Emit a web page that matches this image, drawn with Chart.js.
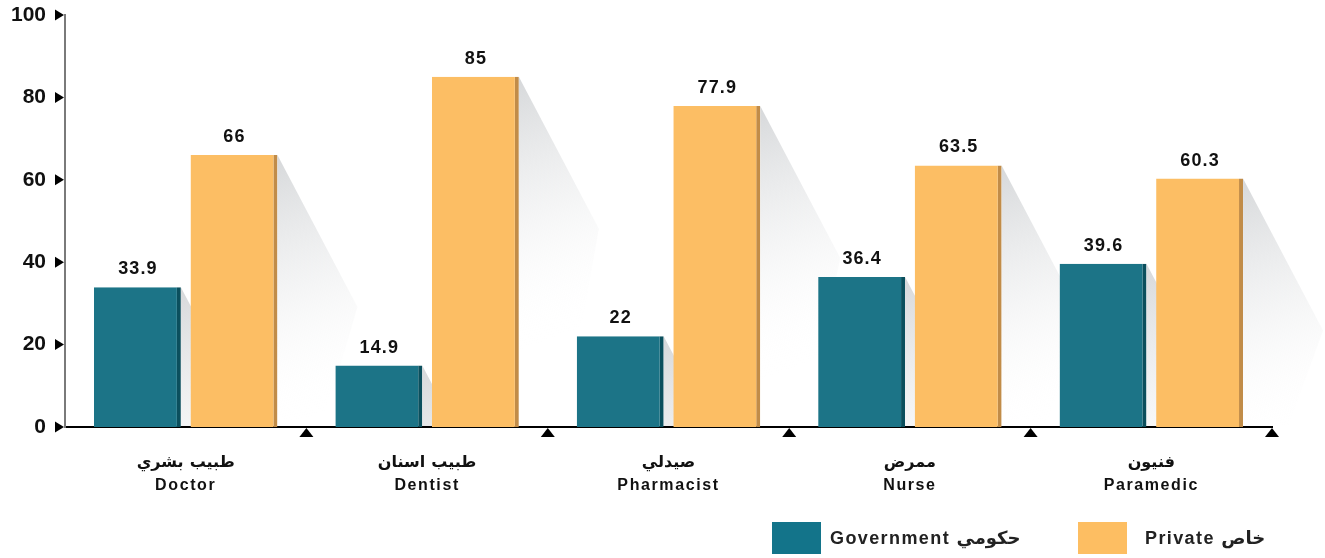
<!DOCTYPE html>
<html><head><meta charset="utf-8">
<script src="https://cdn.jsdelivr.net/npm/chart.js@4.4.1/dist/chart.umd.min.js"></script>
<style>html,body{margin:0;padding:0;background:#fff;} #wrap{width:1325px;height:558px;position:relative;}</style>
</head><body><div id="wrap"><canvas id="c"></canvas></div>
<script>
const categoriesAr = ['طبيب بشري', 'طبيب اسنان', 'صيدلي', 'ممرض', 'فنيون'];
const categoriesEn = ['Doctor', 'Dentist', 'Pharmacist', 'Nurse', 'Paramedic'];
const governmentValues = [33.9, 14.9, 22, 36.4, 39.6];
const privateValues = [66, 85, 77.9, 63.5, 60.3];
const seriesNames = ['Government حكومي', 'Private خاص'];
const yTickValues = [0, 20, 40, 60, 80, 100];

const FONT = '"Liberation Sans", Arial, "DejaVu Sans", sans-serif';
const legendColors = ['#13748a', '#fdbe62'];

const deco = {
  id: 'deco',
  beforeUpdate(chart) { chart.ctx.letterSpacing = '0px'; },
  beforeDraw(chart) { chart.ctx.letterSpacing = '1.6px'; },
  beforeDatasetsDraw(chart) {
    const ctx = chart.ctx;
    const area = chart.chartArea;
    ctx.save();
    ctx.letterSpacing = '0px';
    ctx.beginPath();
    ctx.rect(area.left, area.top - 40, area.right - area.left + 80, area.bottom - area.top + 39);
    ctx.clip();
    chart.data.datasets.forEach((ds, di) => {
      const meta = chart.getDatasetMeta(di);
      meta.data.forEach(bar => {
        const p = bar.getProps(['x', 'y', 'base', 'width'], true);
        const r = p.x + p.width / 2;
        const top = p.y, base = p.base;
        const g = ctx.createLinearGradient(r, top, r + 90, top + 240);
        g.addColorStop(0, 'rgba(212,214,216,0.95)');
        g.addColorStop(0.5, 'rgba(236,237,238,0.6)');
        g.addColorStop(1, 'rgba(255,255,255,0)');
        ctx.fillStyle = g;
        ctx.beginPath();
        ctx.moveTo(r, top);
        ctx.lineTo(r + 80, top + 152);
        ctx.lineTo(r + 45, base);
        ctx.lineTo(r, base);
        ctx.closePath();
        ctx.fill();
      });
    });
    ctx.restore();
  },
  afterDatasetsDraw(chart) {
    const ctx = chart.ctx;
    ctx.save();
    ctx.letterSpacing = '1.1px';
    ctx.font = `bold 18px ${FONT}`;
    ctx.fillStyle = '#111';
    ctx.textAlign = 'center';
    ctx.textBaseline = 'alphabetic';
    chart.data.datasets.forEach((ds, di) => {
      const meta = chart.getDatasetMeta(di);
      meta.data.forEach((bar, i) => {
        const p = bar.getProps(['x', 'y'], true);
        ctx.fillText(String(ds.data[i]), p.x + 0.5, p.y - 13);
      });
    });
    ctx.restore();
    ctx.letterSpacing = '0px';
  },
  afterDraw(chart) {
    const ctx = chart.ctx;
    const area = chart.chartArea;
    const xs = chart.scales.x, ys = chart.scales.y;
    ctx.save();
    ctx.letterSpacing = '0px';
    ctx.fillStyle = '#000';
    ys.ticks.forEach(t => {
      const y = ys.getPixelForValue(t.value);
      ctx.beginPath();
      ctx.moveTo(area.left - 10, y - 5.5);
      ctx.lineTo(area.left - 1, y);
      ctx.lineTo(area.left - 10, y + 5.5);
      ctx.closePath();
      ctx.fill();
    });
    const n = chart.data.labels.length;
    for (let i = 0; i < n; i++) {
      const bx = i < n - 1 ? (xs.getPixelForValue(i) + xs.getPixelForValue(i + 1)) / 2 : area.right;
      const y0 = area.bottom + 1;
      ctx.beginPath();
      ctx.moveTo(bx - 7, y0 + 9);
      ctx.lineTo(bx, y0);
      ctx.lineTo(bx + 7, y0 + 9);
      ctx.closePath();
      ctx.fill();
    }
    // legend
    ctx.font = `bold 18px ${FONT}`;
    ctx.letterSpacing = '1.4px';
    ctx.textBaseline = 'middle';
    ctx.textAlign = 'left';
    const boxW = 49, boxH = 32, boxTop = 522;
    const itemX = [772, 1078];
    const textGaps = [9, 18];
    chart.data.datasets.forEach((ds, i) => {
      const x = itemX[i];
      ctx.fillStyle = legendColors[i];
      ctx.fillRect(x, boxTop, boxW, boxH);
      ctx.fillStyle = '#222';
      ctx.fillText(ds.label, x + boxW + textGaps[i], boxTop + boxH / 2 + 1);
    });
    ctx.restore();
  }
};

new Chart(document.getElementById('c'), {
  type: 'bar',
  data: {
    labels: categoriesAr.map((a, i) => [a, categoriesEn[i]]),
    datasets: [
      {
        label: seriesNames[0],
        data: governmentValues,
        backgroundColor: '#1c7487',
        borderColor: '#0b4f5d',
        borderWidth: { top: 0, left: 0, bottom: 0, right: 4 },
        borderSkipped: false,
        categoryPercentage: 0.8,
        barPercentage: 0.9
      },
      {
        label: seriesNames[1],
        data: privateValues,
        backgroundColor: '#fcbe64',
        borderColor: '#c18c48',
        borderWidth: { top: 0, left: 0, bottom: 0, right: 4 },
        borderSkipped: false,
        categoryPercentage: 0.8,
        barPercentage: 0.9
      }
    ]
  },
  options: {
    responsive: true,
    maintainAspectRatio: false,
    animation: false,
    events: [],
    layout: { padding: { left: 11, right: 53, top: 15, bottom: 61 } },
    plugins: {
      legend: { display: false },
      tooltip: { enabled: false }
    },
    scales: {
      x: {
        grid: { display: false, drawTicks: false },
        border: { display: true, color: '#000', width: 2 },
        ticks: {
          color: '#111',
          font: { family: FONT, size: 16, weight: 'bold', lineHeight: 1.45 },
          padding: 24,
          maxRotation: 0,
          autoSkip: false
        },
        afterFit(scale) { scale.height = 70; }
      },
      y: {
        min: 0,
        max: 100,
        afterBuildTicks(scale) { scale.ticks = yTickValues.map(v => ({ value: v })); },
        grid: { display: false, drawTicks: false },
        border: { display: true, color: '#7a7a7a', width: 2 },
        ticks: {
          z: 1,
          color: '#111',
          font: { family: FONT, size: 21, weight: 'bold' },
          padding: 19
        },
        afterFit(scale) { scale.width = 54; scale.paddingTop = 0; scale.paddingBottom = 0; }
      }
    }
  },
  plugins: [deco]
});
</script>
</body></html>
